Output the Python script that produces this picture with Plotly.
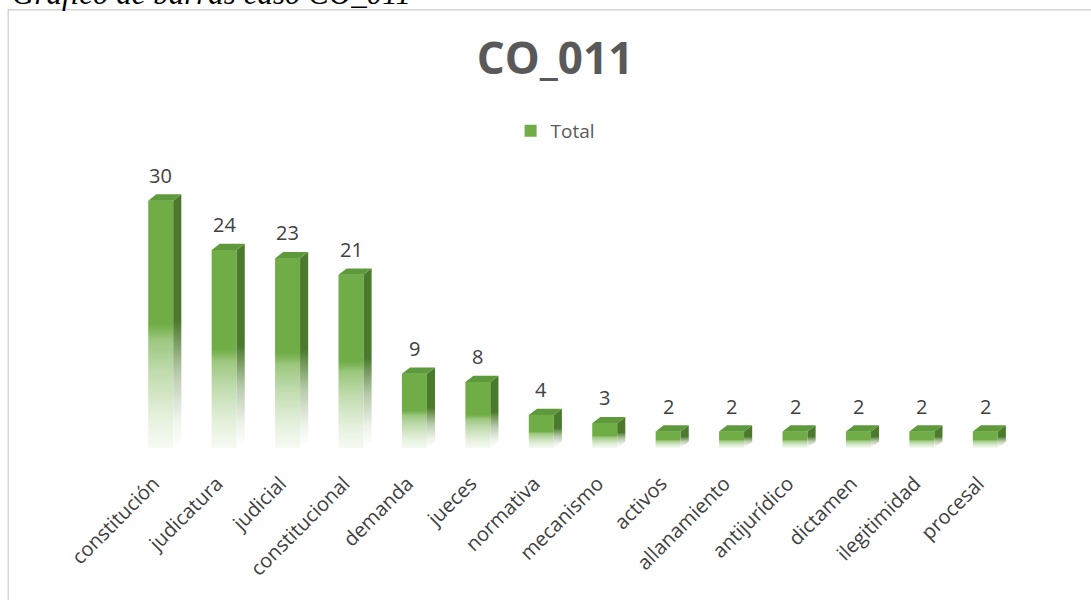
import plotly.graph_objects as go

# Term frequencies for case CO_011
categories = [
    "constitución", "judicatura", "judicial", "constitucional", "demanda",
    "jueces", "normativa", "mecanismo", "activos", "allanamiento",
    "antijurídico", "dictamen", "ilegitimidad", "procesal",
]
values = [30, 24, 23, 21, 9, 8, 4, 3, 2, 2, 2, 2, 2, 2]
series_name = "Total"
chart_title = "CO_011"
caption = "Gráfico de barras caso CO_011"

# Pseudo-3D column geometry (in axis units)
FRONT_HALF = 0.197   # half width of the front face
DEPTH_X = 0.128      # horizontal depth offset
DEPTH_Y = 0.76       # vertical depth offset

GREEN = "#70AD47"
SIDE = "#4B7A2D"
TOP = "#5E993C"
FONT = "Open Sans"

front_scale = [
    [0.0, "#f6faf3"], [0.12, "#e6f1de"], [0.30, "#c2dcb0"],
    [0.44, "#9cc77e"], [0.47, "#84b95f"], [0.50, GREEN], [1.0, GREEN],
]
side_scale = [
    [0.0, "#ffffff"], [0.12, "#eef2eb"], [0.30, "#b7c9ab"],
    [0.44, "#6f9455"], [0.50, SIDE], [1.0, SIDE],
]

n = len(categories)
idx = list(range(n))

fig = go.Figure()

# Solid column under the shaded faces; it also provides the legend entry
fig.add_trace(go.Bar(
    x=idx, y=values, width=2 * FRONT_HALF - 0.03, name=series_name,
    marker=dict(color=GREEN, line=dict(width=0)), hoverinfo="skip",
    showlegend=True,
))

for i, v in enumerate(values):
    xl, xr = i - FRONT_HALF, i + FRONT_HALF
    # front face with vertical fade towards the floor
    fig.add_trace(go.Scatter(
        x=[xl, xr, xr, xl, xl], y=[0, 0, v, v, 0], mode="none",
        fill="toself", fillgradient=dict(type="vertical", colorscale=front_scale),
        hoverinfo="skip", showlegend=False,
    ))
    # right side face
    fig.add_trace(go.Scatter(
        x=[xr, xr + DEPTH_X, xr + DEPTH_X, xr, xr],
        y=[0, DEPTH_Y, v + DEPTH_Y, v, 0], mode="none",
        fill="toself", fillgradient=dict(type="vertical", colorscale=side_scale),
        hoverinfo="skip", showlegend=False,
    ))
    # top face
    fig.add_trace(go.Scatter(
        x=[xl, xr, xr + DEPTH_X, xl + DEPTH_X, xl],
        y=[v, v, v + DEPTH_Y, v + DEPTH_Y, v], mode="none",
        fill="toself", fillcolor=TOP, hoverinfo="skip", showlegend=False,
    ))

# value labels above each column
annotations = [
    dict(x=i, y=v, xref="x", yref="y", text=str(v), showarrow=False,
         yanchor="middle", yshift=25.5,
         font=dict(family=FONT, size=20, color="#404040"))
    for i, v in enumerate(values)
]

# caption above the chart frame
annotations.append(dict(
    x=-0.1343, y=1.459, xref="paper", yref="paper", xanchor="left",
    yanchor="bottom", showarrow=False, text=caption,
    font=dict(family="Liberation Serif", size=31, color="#000000", style="italic"),
))

fig.update_layout(
    width=1091, height=600,
    margin=dict(l=129.3, r=73.5, t=150, b=151.5, autoexpand=False),
    paper_bgcolor="white", plot_bgcolor="white",
    title=dict(text=f"<b>{chart_title}</b>", x=0.5087, xref="container",
               xanchor="center", y=0.902, yref="container", yanchor="middle",
               font=dict(family=FONT, size=44, color="#595959")),
    legend=dict(orientation="h", x=0.468, xref="container", xanchor="left",
                y=1 - 131 / 600, yref="container", yanchor="middle",
                font=dict(family=FONT, size=19, color="#595959"),
                bgcolor="rgba(0,0,0,0)"),
    xaxis=dict(range=[-0.5, n - 0.5], tickvals=idx, ticktext=categories,
               tickangle=-45, showgrid=False, zeroline=False, showline=False,
               ticks="", ticklabelstandoff=19, ticklabelshift=-7,
               automargin=False,
               tickfont=dict(family=FONT, size=20, color="#404040")),
    yaxis=dict(range=[0, 36.14], visible=False, automargin=False),
    annotations=annotations,
    shapes=[dict(type="rect", xref="paper", yref="paper",
                 x0=-0.136, x1=1.0875, y0=-0.524, y1=1.4707,
                 line=dict(color="#d4d4d4", width=1.4), layer="below")],
    showlegend=True,
)

fig.write_html("out.html")
